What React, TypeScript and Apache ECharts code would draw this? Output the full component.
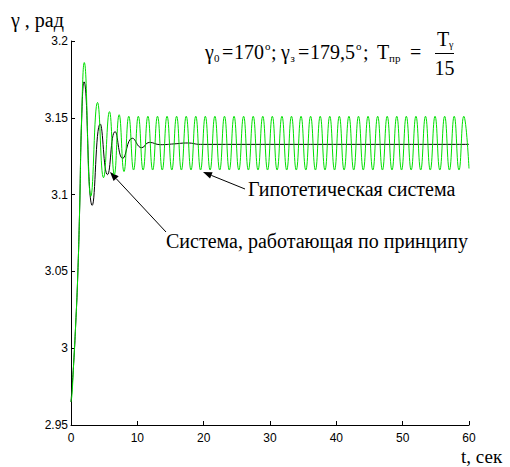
import React, { useEffect, useRef } from "react";
import * as echarts from "echarts";

// Hypothetical system (green) — time, s
const greenT = [
  0, 0.15, 0.4, 0.7, 1.0, 1.3, 1.6, 2.0, 3.0, 4.0, 4.9, 5.8, 6.53, 7.26, 7.99, 8.71, 9.43,
  10.15, 10.87, 11.59, 12.31, 13.04, 13.76, 14.48, 15.2, 15.92, 16.64, 17.37, 18.09,
  18.81, 19.53, 20.25, 20.97, 21.69, 22.42, 23.14, 23.86, 24.58, 25.3, 26.02, 26.74,
  27.47, 28.19, 28.91, 29.63, 30.35, 31.07, 31.8, 32.52, 33.24, 33.96, 34.68, 35.4,
  36.12, 36.85, 37.57, 38.29, 39.01, 39.73, 40.45, 41.17, 41.9, 42.62, 43.34, 44.06,
  44.78, 45.5, 46.23, 46.95, 47.67, 48.39, 49.11, 49.83, 50.55, 51.28, 52.0, 52.72,
  53.44, 54.16, 54.88, 55.6, 56.33, 57.05, 57.77, 58.49, 59.21, 60,
];
// Hypothetical system (green) — gamma, rad
const greenY = [
  2.965, 2.97, 2.99, 3.015, 3.045, 3.09, 3.15, 3.186, 3.099, 3.16, 3.111, 3.154, 3.113, 3.152, 3.115, 3.151, 3.116,
  3.151, 3.116, 3.151, 3.116, 3.151, 3.116, 3.151, 3.116, 3.151, 3.116, 3.151, 3.116,
  3.151, 3.116, 3.151, 3.116, 3.151, 3.116, 3.151, 3.116, 3.151, 3.116, 3.151, 3.116,
  3.151, 3.116, 3.151, 3.116, 3.151, 3.116, 3.151, 3.116, 3.151, 3.116, 3.151, 3.116,
  3.151, 3.116, 3.151, 3.116, 3.151, 3.116, 3.151, 3.116, 3.151, 3.116, 3.151, 3.116,
  3.151, 3.116, 3.151, 3.116, 3.151, 3.116, 3.151, 3.116, 3.151, 3.116, 3.151, 3.116,
  3.151, 3.116, 3.151, 3.116, 3.151, 3.116, 3.151, 3.116, 3.151, 3.117,
];

// System working on the principle (black)
const blackT = [0, 0.4, 0.7, 1.0, 1.3, 1.6, 1.96, 3.2, 4.4, 5.5, 6.65, 7.8, 9.25, 10.66, 11.8, 13.5, 15.5, 17.6, 19.5, 60];
const blackY = [2.965, 2.99, 3.015, 3.045, 3.09, 3.148, 3.1735, 3.093, 3.146, 3.113, 3.141, 3.1236, 3.1367, 3.1305, 3.134, 3.1325, 3.133, 3.1336, 3.1327, 3.1327];

const xMin = 0, xMax = 60, xStep = 10;
const yMin = 2.95, yMax = 3.2, yStep = 0.05;

const serif = "Liberation Serif";
const sans = "Liberation Sans";

function arrow(x1: number, y1: number, x2: number, y2: number) {
  const dx = x2 - x1, dy = y2 - y1;
  const len = Math.hypot(dx, dy);
  const ux = dx / len, uy = dy / len;
  const L = 9, W = 3.5;
  const bx = x2 - ux * L, by = y2 - uy * L;
  const px = -uy, py = ux;
  return [
    { type: "line", shape: { x1, y1, x2: bx, y2: by }, style: { stroke: "#000", lineWidth: 1 } },
    {
      type: "polygon",
      shape: { points: [[x2, y2], [bx + px * W, by + py * W], [bx - px * W, by - py * W]] },
      style: { fill: "#000" },
    },
  ];
}

function label(text: string, x: number, y: number, extra: any = {}) {
  return {
    type: "text",
    style: {
      text,
      x,
      y,
      fontFamily: serif,
      fontSize: 20,
      fill: "#000",
      textVerticalAlign: "middle",
      ...extra,
    },
  };
}

// formula pieces: main line centre y=52, subscripts lower, superscripts higher
const main = (t: string, x: number) => label(t, x, 52);
const sub = (t: string, x: number) => label(t, x, 57.5, { fontSize: 11 });
const sup = (t: string, x: number) => label(t, x, 46, { fontSize: 11 });

export default function App() {
  const ref = useRef<HTMLDivElement>(null);
  useEffect(() => {
    const chart = echarts.init(ref.current!, null, { renderer: "svg" });
    const green = greenT.map((t, i) => [t, greenY[i]]);
    const black = blackT.map((t, i) => [t, blackY[i]]);
    chart.setOption({
      animation: false,
      backgroundColor: "#fff",
      grid: { left: 71, right: 41, top: 41, bottom: 42, containLabel: false },
      xAxis: {
        type: "value",
        min: xMin,
        max: xMax,
        interval: xStep,
        axisLine: { show: true, onZero: false, lineStyle: { color: "#000", width: 1 } },
        axisTick: { show: true, inside: true, length: 4, lineStyle: { color: "#000" } },
        axisLabel: { color: "#000", fontFamily: sans, fontSize: 12, margin: 7 },
        splitLine: { show: false },
      },
      yAxis: {
        type: "value",
        min: yMin,
        max: yMax,
        interval: yStep,
        axisLine: { show: true, onZero: false, lineStyle: { color: "#000", width: 1 } },
        axisTick: { show: true, inside: true, length: 4, lineStyle: { color: "#000" } },
        axisLabel: {
          color: "#000",
          fontFamily: sans,
          fontSize: 12,
          margin: 3,
          formatter: (v: number) => String(+v.toFixed(2)),
        },
        splitLine: { show: false },
      },
      series: [
        {
          type: "line",
          data: black,
          showSymbol: false,
          smooth: 0.5,
          lineStyle: { color: "#000", width: 1 },
          z: 2,
        },
        {
          type: "line",
          data: green,
          showSymbol: false,
          smooth: 0.5,
          lineStyle: { color: "#00e000", width: 1 },
          z: 3,
        },
      ],
      graphic: [
        label("γ , рад", 11, 20),
        label("t, сек", 461, 456, { fontSize: 19 }),
        main("γ", 205),
        sub("0", 214),
        main("=", 222),
        main("170", 234),
        sup("o", 265),
        main(";", 271),
        main("γ", 281),
        sub("з", 290.5),
        main("=", 298),
        main("179,5", 310),
        sup("o", 356),
        main(";", 363),
        main("T", 377),
        sub("пр", 389),
        main("=", 410),
        label("T", 437, 39),
        label("γ", 449, 44, { fontSize: 10 }),
        { type: "line", shape: { x1: 435, y1: 53.5, x2: 454, y2: 53.5 }, style: { stroke: "#000", lineWidth: 1 } },
        label("15", 444.5, 68, { textAlign: "center" }),
        label("Гипотетическая система", 248, 189),
        label("Система, работающая по принципу", 166, 241),
        ...arrow(245, 189, 203, 172),
        ...arrow(166, 232, 110, 172),
      ],
    });
    return () => chart.dispose();
  }, []);
  return (
    <div
      ref={ref}
      style={{ position: "absolute", left: 0, top: 0, width: 510, height: 467, background: "#fff" }}
    />
  );
}
